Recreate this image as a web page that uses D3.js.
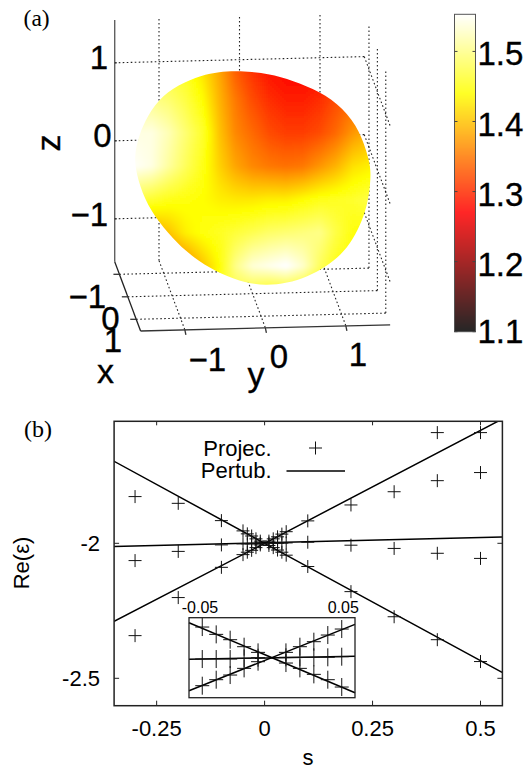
<!DOCTYPE html>
<html><head><meta charset="utf-8">
<script src="https://cdn.jsdelivr.net/npm/d3@7"></script>
<style>html,body{margin:0;padding:0;background:#fff}svg{display:block}
text{font-family:"Liberation Sans",Arial,sans-serif;fill:#000}
.serif{font-family:"Liberation Serif","Times New Roman",serif}</style>
</head><body><svg id="c" width="528" height="770"></svg>
<script>
// ---- Panel (a): surface (plot y / z units, colour value)
const surfaceY=[-1.3,-1.09,-0.88,-0.67,-0.46,-0.25,-0.05,0.16,0.37,0.58,0.79,1.0,1.2,1.41,1.62];
const surfaceZ=[0.96,0.53,0.11,-0.32,-0.75,-1.17,-1.6,-2.03];
const surfaceValues=[
[1.46,1.46,1.46,1.45,1.42,1.38,1.33,1.30,1.28,1.27,1.27,1.27,1.28,1.30,1.32],
[1.50,1.50,1.49,1.47,1.44,1.39,1.35,1.32,1.30,1.29,1.29,1.30,1.32,1.34,1.36],
[1.54,1.54,1.52,1.49,1.46,1.40,1.36,1.34,1.32,1.31,1.31,1.32,1.34,1.37,1.39],
[1.55,1.54,1.51,1.48,1.45,1.41,1.38,1.36,1.35,1.345,1.35,1.37,1.39,1.42,1.43],
[1.47,1.46,1.45,1.445,1.44,1.43,1.425,1.425,1.43,1.43,1.44,1.45,1.455,1.46,1.47],
[1.36,1.38,1.40,1.43,1.445,1.455,1.465,1.475,1.485,1.49,1.495,1.50,1.47,1.445,1.44],
[1.34,1.34,1.34,1.36,1.40,1.44,1.50,1.535,1.545,1.555,1.53,1.48,1.45,1.44,1.44],
[1.36,1.36,1.36,1.38,1.42,1.46,1.46,1.44,1.42,1.42,1.42,1.42,1.42,1.42,1.42]];
const outlineY=[-0.01,0.368,0.661,0.996,1.289,1.498,1.6,1.63,1.625,1.6,1.53,1.405,1.26,1.072,0.845,0.59,0.326,0.075,-0.218,-0.51,-0.762,-1.013,-1.18,-1.285,-1.305,-1.264,-1.18,-1.013,-0.762,-0.469,-0.259];
const outlineZ=[0.906,0.868,0.778,0.641,0.427,0.128,-0.2,-0.368,-0.535,-0.752,-1.009,-1.265,-1.458,-1.608,-1.736,-1.82,-1.85,-1.816,-1.709,-1.538,-1.325,-1.026,-0.748,-0.406,-0.192,0.021,0.256,0.534,0.726,0.846,0.889];
const axisTicks3D=[-1,0,1];
const colorbarTicks=[1.1,1.2,1.3,1.4,1.5];
const colorDomain=[1.1,1.553];
const limX=[-1.56,1.52], limY=[-1.55,1.55], limZ=[-1.55,1.55];

// ---- Panel (b)
const sTicks=[-0.25,0,0.25,0.5], sTickLabels=["-0.25","0","0.25","0.5"];
const eTicks=[-2,-2.5], eTickLabels=["-2","-2.5"];
const lineS=[-0.35,0,0.55];
const lineRising=[-2.29,-2,-1.54];
const lineFalling=[-1.695,-2,-2.478];
const lineMiddle=[-2.012,-1.998,-1.977];
const projS=[-0.3,-0.2,-0.1,-0.05,-0.04,-0.03,-0.02,-0.01,0.01,0.02,0.03,0.04,0.05,0.1,0.2,0.3,0.4,0.5];
const projA=[-1.827,-1.852,-1.916,-1.954,-1.965,-1.973,-1.9835,-1.992,-1.992,-1.9835,-1.976,-1.966,-1.957,-1.917,-1.858,-1.809,-1.768,-1.738];
const projB=[-2.064,-2.03,-2.006,-2.002,-2.002,-2.002,-2.001,-2,-1.9994,-1.9994,-1.9994,-1.9994,-1.9985,-1.996,-2.007,-2.019,-2.037,-2.056];
const projC=[-2.342,-2.201,-2.089,-2.042,-2.033,-2.026,-2.016,-2.006,-2.008,-2.016,-2.025,-2.033,-2.044,-2.086,-2.179,-2.272,-2.357,-2.438];
const projExtraS=[0.4,0.5], projExtra=[-1.59,-1.59];
const insetDomainS=[-0.0595,0.0595], insetDomainE=[-2.06,-1.94];
const insetLineRising=[-2.0495,-1.95], insetLineFalling=[-1.9475,-2.0525], insetLineMiddle=[-2.0024,-1.998];
const insetTicks=[-0.05,0.05], insetTickLabels=["-0.05","0.05"];

const svg=d3.select("#c");
const defs=svg.append("defs");

// ---- colormap (hot)
const clip01=v=>Math.max(0,Math.min(1,v));
const tScale=d3.scaleLinear().domain(colorDomain).range([0,1]).clamp(true);
const hot=v=>{const t=tScale(v);return d3.rgb(255*clip01(t/.375),255*clip01((t-.375)/.375),255*clip01((t-.75)/.25)).formatHex();};

// ---- 3D box
const sy=d3.scaleLinear().domain([-1,1]).range([159,320]);
const sz=d3.scaleLinear().domain([-1,1]).range([219.3,63.3]);
const dX=[8.4,22.5], dYv=-2.0;
function proj(x,y,z){
  return [sy(y)+(x-limX[0])*dX[0],
          261.7-(sz(limZ[0])-sz(z))+(x-limX[0])*dX[1]+(y-limY[0])*dYv];
}
const A=svg.append("g");
const seg=(p,q)=>A.append("line").attr("x1",p[0]).attr("y1",p[1]).attr("x2",q[0]).attr("y2",q[1]);
const dotted=s=>s.attr("stroke","#222").attr("stroke-width",1.1).attr("stroke-dasharray","1.6 2.4");
axisTicks3D.forEach(t=>{
  dotted(seg(proj(limX[0],limY[0],t),proj(limX[0],limY[1],t)));   // back wall z
  dotted(seg(proj(limX[0],t,limZ[0]),proj(limX[0],t,limZ[1])));   // back wall y
  dotted(seg(proj(limX[0],limY[1],t),proj(limX[1],limY[1],t)));   // side wall z
  dotted(seg(proj(t,limY[1],limZ[0]),proj(t,limY[1],limZ[1])));   // side wall x
  dotted(seg(proj(t,limY[0],limZ[0]),proj(t,limY[1],limZ[0])));   // floor x
  dotted(seg(proj(limX[0],t,limZ[0]),proj(limX[1],t,limZ[0])));   // floor y
});
const solid=(s,c)=>s.attr("stroke",c).attr("stroke-width",1.3);
solid(seg(proj(limX[0],limY[0],limZ[0]),proj(limX[0],limY[0],limZ[1])),"#555");
solid(seg(proj(limX[0],limY[0],limZ[0]),proj(limX[1],limY[0],limZ[0])),"#222");
solid(seg(proj(limX[1],limY[0],limZ[0]),proj(limX[1],limY[1],limZ[0])),"#333");
axisTicks3D.forEach(t=>{
  const p=proj(t,limY[0],limZ[0]); solid(seg([p[0]-6,p[1]],p),"#333");
  const q=proj(limX[1],t,limZ[0]); solid(seg(q,[q[0]+1,q[1]+5]),"#333");
  const r=proj(limX[0],limY[0],t); solid(seg(r,[r[0]+2,r[1]]),"#333");
});

// ---- surface
const pts=outlineY.map((y,i)=>[sy(y),sz(outlineZ[i])]);
defs.append("clipPath").attr("id","blob").append("path").attr("d",d3.line().curve(d3.curveBasisClosed)(pts));
const f=defs.append("filter").attr("id","soft").attr("x","-5%").attr("y","-5%").attr("width","110%").attr("height","110%");
f.append("feGaussianBlur").attr("stdDeviation",1.8);
const yAt=d3.scaleLinear().domain(surfaceY).range(surfaceY.map((_,i)=>i)).clamp(true);
const zAt=d3.scaleLinear().domain(surfaceZ).range(surfaceZ.map((_,i)=>i)).clamp(true);
function field(y,z){
  const a=yAt(y),b=zAt(z),i=Math.min(Math.floor(a),surfaceY.length-2),j=Math.min(Math.floor(b),surfaceZ.length-2),u=a-i,v=b-j;
  return (1-v)*((1-u)*surfaceValues[j][i]+u*surfaceValues[j][i+1])+v*((1-u)*surfaceValues[j+1][i]+u*surfaceValues[j+1][i+1]);
}
const cells=[];
for(const px of d3.range(126,380,2))for(const py of d3.range(62,296,2))
  cells.push({px,py,v:field(sy.invert(px+1),sz.invert(py+1))});
A.append("g").attr("clip-path","url(#blob)").append("g").attr("filter","url(#soft)")
 .selectAll("rect").data(cells).join("rect")
 .attr("x",d=>d.px).attr("y",d=>d.py).attr("width",2.2).attr("height",2.2).attr("fill",d=>hot(d.v));

// ---- colorbar
const cb=d3.scaleLinear().domain(colorDomain).range([331.7,14.3]);
A.append("g").selectAll("rect").data(d3.range(15,332)).join("rect")
 .attr("x",454.5).attr("y",d=>d-0.5).attr("width",21).attr("height",1.2).attr("fill",d=>hot(cb.invert(d)));
A.append("rect").attr("x",454.5).attr("y",14.3).attr("width",21).attr("height",317.4).attr("fill","none").attr("stroke","#555").attr("stroke-width",1);
colorbarTicks.forEach(t=>{
  A.append("line").attr("x1",472.5).attr("x2",475.5).attr("y1",cb(t)).attr("y2",cb(t)).attr("stroke","#444");
  A.append("line").attr("x1",454.5).attr("x2",457.5).attr("y1",cb(t)).attr("y2",cb(t)).attr("stroke","#444");
});
const T=(x,y,s,size,anchor,cls)=>svg.append("text").attr("x",x).attr("y",y).text(s).attr("font-size",size).attr("text-anchor",anchor||"start").attr("class",cls||null);
const big=33;
const bigT=(...a)=>T(...a).attr("stroke","#000").attr("stroke-width",0.35);
colorbarTicks.forEach(t=>bigT(477.5,cb(t)+(t===1.1?11.5:14),d3.format(".1f")(t),big,"start"));
const fmt=t=>t<0?"\u2212"+Math.abs(t):String(t);
[[1,69],[0,147],[-1,226]].forEach(([t,b])=>bigT(t===0?111.5:108,b,fmt(t),big,"end"));
bigT(106,308,fmt(-1),big,"end");bigT(119.5,330,fmt(0),big,"end");bigT(122,352,fmt(1),big,"end");
bigT(226,371,fmt(-1),big,"end");bigT(279,368,fmt(0),big,"middle");bigT(358,366,fmt(1),big,"middle");
bigT(105.4,382.5,"x",34,"middle");bigT(256,386,"y",34,"middle");
svg.append("text").attr("transform","translate(59.6,143) rotate(-90)").attr("text-anchor","middle").attr("font-size",34).attr("stroke","#000").attr("stroke-width",0.35).text("z");
T(23.6,26,"(a)",23.5,"start","serif");
T(24,436.5,"(b)",24,"start","serif");

// ---- Panel (b)
const M={l:114.1,r:502.4,t:421.3,b:705.7};
const xS=d3.scaleLinear().domain([0,0.5]).range([264.6,480.5]);
const yE=d3.scaleLinear().domain([-2.5,-2]).range([678.3,543.3]);
const B=svg.append("g");
defs.append("clipPath").attr("id","mainClip").append("rect").attr("x",M.l).attr("y",M.t).attr("width",M.r-M.l).attr("height",M.b-M.t);
const crossPath=(w,h)=>`M${-w},0H${w}M0,${-h}V${h}`;
const drawSeries=(g,xs,ys,sx,sE)=>g.append("path")
  .attr("d",d3.line().x((d,i)=>sx(xs[i])).y(d=>sE(d))(ys)).attr("fill","none").attr("stroke","#000").attr("stroke-width",1.5);
const drawCrosses=(g,xs,ys,sx,sE,w,h)=>g.append("g").selectAll("path").data(ys).join("path")
  .attr("d",crossPath(w,h)).attr("transform",(d,i)=>`translate(${sx(xs[i])},${sE(d)})`).attr("stroke","#111").attr("stroke-width",1).attr("fill","none");
const main=B.append("g").attr("clip-path","url(#mainClip)");
[lineRising,lineFalling,lineMiddle].forEach(v=>drawSeries(main,lineS,v,xS,yE));
[projA,projB,projC].forEach(v=>drawCrosses(main,projS,v,xS,yE,6.5,6.5));
drawCrosses(main,projExtraS,projExtra,xS,yE,6.5,6.5);
B.append("rect").attr("x",M.l).attr("y",M.t).attr("width",M.r-M.l).attr("height",M.b-M.t).attr("fill","none").attr("stroke","#222").attr("stroke-width",1.5);
sTicks.forEach((t,i)=>{
  [[M.b,M.b-5],[M.t,M.t+4]].forEach(([a,b])=>B.append("line").attr("x1",xS(t)).attr("x2",xS(t)).attr("y1",a).attr("y2",b).attr("stroke","#222"));
  T(xS(t),735.7,sTickLabels[i],22,"middle");
});
eTicks.forEach((t,i)=>{
  [[M.l,M.l+5],[M.r,M.r-5]].forEach(([a,b])=>B.append("line").attr("x1",a).attr("x2",b).attr("y1",yE(t)).attr("y2",yE(t)).attr("stroke","#222"));
  T(100,yE(t)+7.8,eTickLabels[i],22,"end");
});
T(308,765,"s",22,"middle");
svg.append("text").attr("transform","translate(29.3,563) rotate(-90)").attr("text-anchor","middle").attr("font-size",22).text("Re(\u03b5)");
T(271.7,455.7,"Projec.",22,"end");T(271.7,478.3,"Pertub.",22,"end");
B.append("path").attr("d",crossPath(6.5,6.5)).attr("transform","translate(315.5,448)").attr("stroke","#111").attr("fill","none");
B.append("line").attr("x1",286.5).attr("x2",345).attr("y1",471).attr("y2",471).attr("stroke","#000").attr("stroke-width",1.5);

// ---- inset
const xI=d3.scaleLinear().domain(insetDomainS).range([189,355]);
const yI=d3.scaleLinear().domain(insetDomainE).range([697.7,617.7]);
const I=B.append("g");
[insetLineRising,insetLineFalling,insetLineMiddle].forEach(v=>drawSeries(I,insetDomainS,v,xI,yI));
const inIdx=projS.map((s,i)=>Math.abs(s)<=0.05?i:-1).filter(i=>i>=0);
[projA,projB,projC].forEach(v=>drawCrosses(I,inIdx.map(i=>projS[i]),inIdx.map(i=>v[i]),xI,yI,7,9));
I.append("rect").attr("x",189).attr("y",617.7).attr("width",166).attr("height",80).attr("fill","none").attr("stroke","#222").attr("stroke-width",1.3);
insetTicks.forEach((t,i)=>T(xI(t)+(i?1.5:-2.3),612.7,insetTickLabels[i],16,"middle"));
</script></body></html>
